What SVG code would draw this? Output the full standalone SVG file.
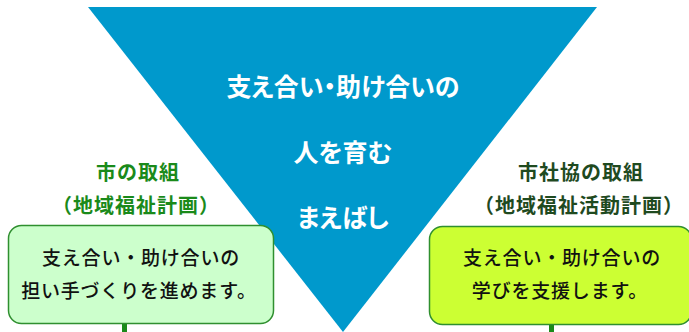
<svg xmlns="http://www.w3.org/2000/svg" width="689" height="332" viewBox="0 0 689 332">
<style>
text{font-family:"Noto Sans CJK JP","Noto Sans CJK SC",sans-serif;text-anchor:middle;font-weight:bold}
.tri{font-size:25px;fill:#fff;font-feature-settings:"palt"}
.title{font-size:20px;letter-spacing:1px}
.body{font-size:19px;fill:#111;font-weight:500;letter-spacing:0.8px}
.stem{fill:#1a8a1a}
</style>
<rect width="689" height="332" fill="#fff"/>
<g id="triangle">
<polygon points="88,7 597,7 343,332" fill="#0099cc"/>
<text class="tri" x="343" y="96">支え合い・助け合いの</text>
<text class="tri" x="343" y="162">人を育む</text>
<text class="tri" x="343" y="227">まえばし</text>
</g>
<g id="connectors">
<rect class="stem" x="122" y="324" width="5" height="8"/>
<rect class="stem" x="549" y="325" width="5" height="7"/>
</g>
<g id="city">
<text class="title" x="138" y="180" fill="#1a8a1a">市の取組</text>
<text class="title" x="136" y="213" fill="#1a8a1a">（地域福祉計画）</text>
<rect x="8.5" y="225.5" width="265" height="98" rx="13" fill="#ccffcc" stroke="#2f8f2f" stroke-width="1.5"/>
<text class="body" x="141" y="265">支え合い・助け合いの</text>
<text class="body" x="139" y="298">担い手づくりを進めます。</text>
</g>
<g id="council">
<text class="title" x="581" y="180" fill="#1f4a1f">市社協の取組</text>
<text class="title" x="579" y="213" fill="#1f4a1f">（地域福祉活動計画）</text>
<rect x="429.5" y="226.5" width="262" height="98" rx="13" fill="#ccff33" stroke="#2f8f2f" stroke-width="1.5"/>
<text class="body" x="562" y="265">支え合い・助け合いの</text>
<text class="body" x="560" y="298">学びを支援します。</text>
</g>
</svg>
